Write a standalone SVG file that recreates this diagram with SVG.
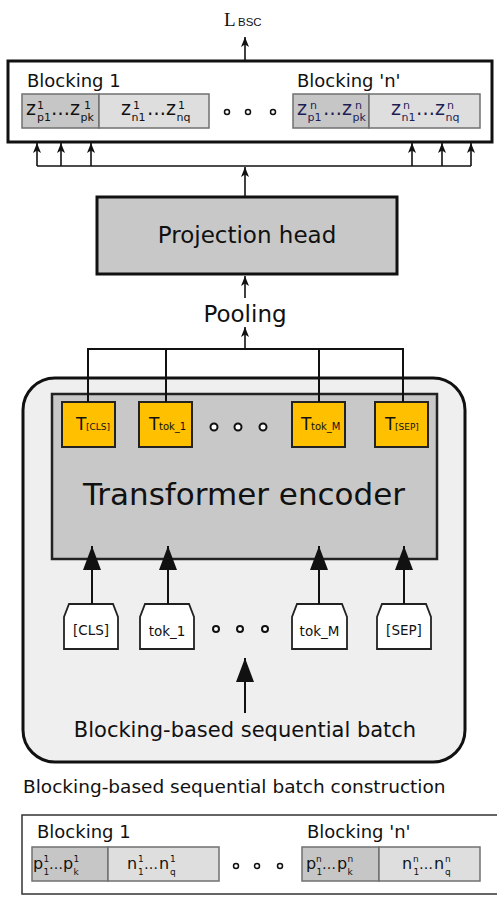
<svg xmlns="http://www.w3.org/2000/svg" width="497" height="897" viewBox="0 0 497 897">
<style>
text{font-family:"DejaVu Sans","Liberation Sans",sans-serif;fill:#111}
.thick{stroke:#111;stroke-width:3}
.ln{fill:none;stroke:#111;stroke-width:1.6}
.lnb{fill:none;stroke:#111;stroke-width:2}
.dark{fill:#c6c6c6;stroke:#707070;stroke-width:1.5}
.light{fill:#dedede;stroke:#707070;stroke-width:1.5}
.dot{fill:#fff;stroke:#111;stroke-width:1.5}
.dot2{fill:#fff;stroke:#111;stroke-width:2}
.tbox{fill:#ffc000;stroke:#222;stroke-width:2}
.tok{fill:#fff;stroke:#222;stroke-width:1.8}
.zb{font-size:19px}
.zs{font-size:11px}
.pb{font-size:16px}
.pe{font-size:14px}
.ps{font-size:9px}
.navy{fill:#1e1e55}
</style>
<defs>
<marker id="sa" viewBox="0 0 10 8" refX="10" refY="4" markerWidth="10" markerHeight="8" markerUnits="userSpaceOnUse" orient="auto">
<path d="M0,0 L10,4 L0,8 L2.5,4 Z" fill="#111"/>
</marker>
<marker id="ba" viewBox="0 0 24 18" refX="24" refY="9" markerWidth="24" markerHeight="18" markerUnits="userSpaceOnUse" orient="auto">
<path d="M0,0 L24,9 L0,18 Z" fill="#111"/>
</marker>
</defs>

<g id="loss">
<text x="224" y="26" style="font-family:'Liberation Serif',serif;font-size:19px">L</text>
<text x="238" y="26" style="font-family:'Liberation Sans',sans-serif;font-size:11.5px">BSC</text>
</g>

<g id="embeddings">
<rect x="8" y="61" width="484" height="81" fill="#fff" class="thick"/>
<text x="27" y="87" style="font-size:18px">Blocking 1</text>
<text x="297" y="87" style="font-size:18px">Blocking 'n'</text>
<rect x="22" y="94" width="77" height="34" class="dark"/>
<rect x="99" y="94" width="110" height="34" class="light"/>
<rect x="293" y="94" width="76" height="34" class="dark"/>
<rect x="369" y="94" width="111" height="34" class="light"/>
<text class="zb" y="115"><tspan x="26">z</tspan><tspan x="51">…</tspan><tspan x="70">z</tspan><tspan x="121">z</tspan><tspan x="147">…</tspan><tspan x="166">z</tspan></text>
<text class="zs"><tspan x="37" y="109">1</tspan><tspan x="37" y="121">p1</tspan><tspan x="84" y="109">1</tspan><tspan x="80.5" y="121">pk</tspan><tspan x="133" y="109">1</tspan><tspan x="131.5" y="121">n1</tspan><tspan x="178" y="109">1</tspan><tspan x="176.5" y="121">nq</tspan></text>
<text class="zb navy" y="115"><tspan x="297">z</tspan><tspan x="323">…</tspan><tspan x="342">z</tspan><tspan x="391">z</tspan><tspan x="416">…</tspan><tspan x="435">z</tspan></text>
<text class="zs navy"><tspan x="310" y="109">n</tspan><tspan x="307.5" y="121">p1</tspan><tspan x="355" y="109">n</tspan><tspan x="352.5" y="121">pk</tspan><tspan x="403" y="109">n</tspan><tspan x="401.5" y="121">n1</tspan><tspan x="447" y="109">n</tspan><tspan x="445.5" y="121">nq</tspan></text>
<circle cx="227" cy="112" r="2.5" class="dot"/>
<circle cx="248" cy="112" r="2.5" class="dot"/>
<circle cx="273" cy="112" r="2.5" class="dot"/>
</g>

<g id="projection-head">
<rect x="97" y="197" width="300" height="77" fill="#c8c8c8" class="thick"/>
<text x="247" y="243" text-anchor="middle" style="font-size:23px">Projection head</text>
</g>

<g id="pooling">
<text x="245" y="322" text-anchor="middle" style="font-size:23px">Pooling</text>
</g>

<g id="outer-model">
<rect x="23" y="378" width="442" height="384" rx="32" ry="32" fill="#efefef" class="thick"/>
</g>

<g id="transformer-encoder">
<rect x="52" y="394" width="385" height="165" fill="#c8c8c8" stroke="#222" stroke-width="2.5"/>
<text x="244" y="505" text-anchor="middle" style="font-size:31px">Transformer encoder</text>
</g>

<g id="t-cls">
<rect x="62" y="402" width="53" height="45" class="tbox"/>
<text y="430"><tspan x="76" style="font-size:17px">T</tspan><tspan x="86" style="font-size:9px">[CLS]</tspan></text>
</g>
<g id="t-tok1">
<rect x="139" y="402" width="53" height="45" class="tbox"/>
<text y="430"><tspan x="149" style="font-size:17px">T</tspan><tspan x="159" style="font-size:10px">tok_1</tspan></text>
</g>
<g id="t-tokm">
<rect x="292" y="402" width="53" height="45" class="tbox"/>
<text y="430"><tspan x="301" style="font-size:17px">T</tspan><tspan x="311" style="font-size:10px">tok_M</tspan></text>
</g>
<g id="t-sep">
<rect x="375" y="402" width="53" height="45" class="tbox"/>
<text y="430"><tspan x="385" style="font-size:17px">T</tspan><tspan x="395" style="font-size:9px">[SEP]</tspan></text>
</g>
<g id="t-dots">
<circle cx="214" cy="427" r="3.5" class="dot2"/>
<circle cx="238" cy="427" r="3.5" class="dot2"/>
<circle cx="263" cy="427" r="3.5" class="dot2"/>
</g>

<g id="tok-cls">
<path d="M69,604 H113 L118,617 V649 H64 V617 Z" class="tok"/>
<text x="91" y="635" text-anchor="middle" style="font-size:13.5px">[CLS]</text>
</g>
<g id="tok-1">
<path d="M145,604 H189 L194,617 V649 H140 V617 Z" class="tok"/>
<text x="167" y="636" text-anchor="middle" style="font-size:13.5px">tok_1</text>
</g>
<g id="tok-m">
<path d="M297,604 H342 L347,617 V649 H292 V617 Z" class="tok"/>
<text x="319.5" y="636" text-anchor="middle" style="font-size:13.5px">tok_M</text>
</g>
<g id="tok-sep">
<path d="M382,604 H426 L431,617 V649 H377 V617 Z" class="tok"/>
<text x="404" y="635" text-anchor="middle" style="font-size:13.5px">[SEP]</text>
</g>
<g id="tok-dots">
<circle cx="216" cy="629" r="3" class="dot2"/>
<circle cx="240" cy="629" r="3" class="dot2"/>
<circle cx="265" cy="629" r="3" class="dot2"/>
</g>

<g id="batch-label">
<text x="245" y="737" text-anchor="middle" style="font-size:21px">Blocking-based sequential batch</text>
</g>

<g id="batch-construction">
<text x="23" y="793" style="font-size:18.5px">Blocking-based sequential batch construction</text>
<rect x="22" y="815" width="478" height="79" fill="#fff" stroke="#333" stroke-width="1.5"/>
<text x="37" y="838" style="font-size:18px">Blocking 1</text>
<text x="307" y="838" style="font-size:18px">Blocking 'n'</text>
<rect x="32" y="847" width="76" height="34" class="dark"/>
<rect x="108" y="847" width="111" height="34" class="light"/>
<rect x="302" y="847" width="77" height="34" class="dark"/>
<rect x="379" y="847" width="101" height="34" class="light"/>
<text class="pb" y="869"><tspan x="33">p</tspan><tspan x="63">p</tspan><tspan x="127">n</tspan><tspan x="159">n</tspan><tspan x="306">p</tspan><tspan x="337">p</tspan><tspan x="402">n</tspan><tspan x="434">n</tspan></text>
<text class="pe" y="869"><tspan x="49">…</tspan><tspan x="144">…</tspan><tspan x="322">…</tspan><tspan x="419">…</tspan></text>
<text class="ps"><tspan x="43.5" y="862">1</tspan><tspan x="43.5" y="875">1</tspan><tspan x="73.5" y="862">1</tspan><tspan x="73.5" y="875">k</tspan><tspan x="138" y="862">1</tspan><tspan x="138" y="875">1</tspan><tspan x="170" y="862">1</tspan><tspan x="170" y="875">q</tspan><tspan x="316" y="862">n</tspan><tspan x="316.5" y="875">1</tspan><tspan x="347.5" y="862">n</tspan><tspan x="347.5" y="875">k</tspan><tspan x="413" y="862">n</tspan><tspan x="413.5" y="875">1</tspan><tspan x="445" y="862">n</tspan><tspan x="445" y="875">q</tspan></text>
<circle cx="236" cy="866" r="2.5" class="dot"/>
<circle cx="257" cy="866" r="2.5" class="dot"/>
<circle cx="280" cy="866" r="2.5" class="dot"/>
</g>

<g id="connectors">
<line x1="245" y1="61" x2="245" y2="37" class="ln" marker-end="url(#sa)"/>
<polyline points="37,166 471,166" class="ln"/>
<line x1="37" y1="166" x2="37" y2="143" class="ln" marker-end="url(#sa)"/>
<line x1="61" y1="166" x2="61" y2="143" class="ln" marker-end="url(#sa)"/>
<line x1="91" y1="166" x2="91" y2="143" class="ln" marker-end="url(#sa)"/>
<line x1="412" y1="166" x2="412" y2="143" class="ln" marker-end="url(#sa)"/>
<line x1="442" y1="166" x2="442" y2="143" class="ln" marker-end="url(#sa)"/>
<line x1="471" y1="166" x2="471" y2="143" class="ln" marker-end="url(#sa)"/>
<line x1="245" y1="197" x2="245" y2="167" class="ln" marker-end="url(#sa)"/>
<line x1="245" y1="298" x2="245" y2="276" class="ln" marker-end="url(#sa)"/>
<line x1="245" y1="349" x2="245" y2="327" class="ln" marker-end="url(#sa)"/>
<polyline points="88,402 88,349 403,349 403,402" class="lnb"/>
<line x1="166" y1="349" x2="166" y2="402" class="lnb"/>
<line x1="319" y1="349" x2="319" y2="402" class="lnb"/>
<line x1="92" y1="604" x2="92" y2="546" class="lnb" marker-end="url(#ba)"/>
<line x1="168" y1="604" x2="168" y2="546" class="lnb" marker-end="url(#ba)"/>
<line x1="319" y1="604" x2="319" y2="546" class="lnb" marker-end="url(#ba)"/>
<line x1="404" y1="604" x2="404" y2="546" class="lnb" marker-end="url(#ba)"/>
<line x1="245" y1="713" x2="245" y2="658" class="lnb" marker-end="url(#ba)"/>
</g>
</svg>
